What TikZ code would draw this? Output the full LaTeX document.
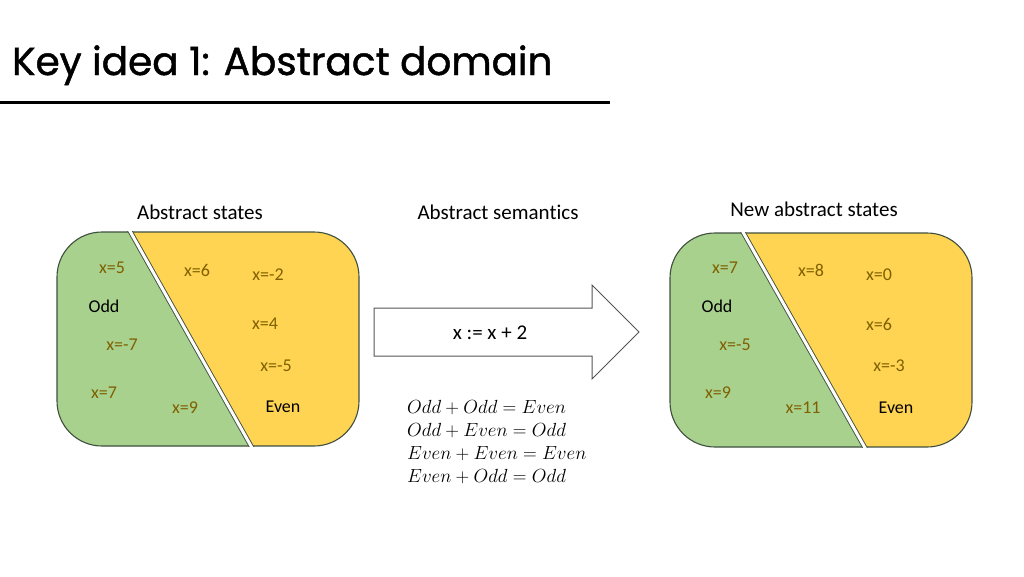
\RequirePackage{fix-cm}
\documentclass[tikz,border=0pt]{standalone}
\usepackage{fontspec}
\setmainfont{Carlito}[Ligatures=NoCommon]
\newfontfamily\titlefont{Poppins}[FakeBold=1.2]
\usetikzlibrary{calc}
\definecolor{grn}{HTML}{A9D18E}
\definecolor{ylw}{HTML}{FFD452}
\definecolor{edgec}{HTML}{3F4F3F}
\definecolor{olive}{HTML}{7F6000}
\definecolor{arrc}{HTML}{555555}
\tikzset{
  val/.style={text=olive, font=\fontsize{18}{20}\selectfont, inner sep=0pt},
  cls/.style={text=black, font=\fontsize{18}{20}\selectfont, inner sep=0pt},
  hdr/.style={font=\fontsize{21}{24}\selectfont, inner sep=0pt},
  eqn/.style={font=\fontsize{19}{22}\selectfont, anchor=base west, inner sep=0pt},
  outl/.style={draw=edgec, line width=1.1pt},
}
\newcommand{\absdomain}[6]{%
  \begin{scope}
    \clip[rounded corners=45pt] (#1,#2) rectangle (#3,#4);
    \fill[ylw] (#1,#2) rectangle (#3,#4);
    \fill[grn] (#1,#2) -- (#5,#2) -- (#6,#4) -- (#1,#4) -- cycle;
  \end{scope}
  \draw[outl, rounded corners=45pt] (#1,#2) rectangle (#3,#4);
  \begin{scope}
    \clip (#1,#2-0.6) rectangle (#3,#4+0.6);
    \draw[edgec, line width=0.9pt, double=white, double distance=3pt]
      ($(#5,#2)!-0.05!(#6,#4)$) -- ($(#5,#2)!1.05!(#6,#4)$);
  \end{scope}
}
\begin{document}
\begin{tikzpicture}[x=1pt,y=-1pt]
\useasboundingbox (0,0) rectangle (1024,576);
\fill[white] (0,0) rectangle (1024,576);

% title
\node[anchor=base west, inner sep=0pt, font=\titlefont\fontsize{39}{46}\selectfont] (title) at (12,75) {Key idea 1: Abstract domain};
\coordinate (r0) at (0,102);
\coordinate (r1) at (610,102);
\draw[line width=3pt] (r0) -- (r1);

% headers
\node[hdr] (h1) at (200,212) {Abstract states};
\node[hdr] (h2) at (498,212) {Abstract semantics};
\node[hdr] (h3) at (814,209) {New abstract states};

% left domain
\absdomain{57}{232}{359}{446}{130.5}{251}
\node[val] (l1) at (112,268) {x=5};
\node[val] (l2) at (197,270) {x=6};
\node[val] (l3) at (268,275) {x=-2};
\node[cls] (l4) at (104,306) {Odd};
\node[val] (l5) at (265,324) {x=4};
\node[val] (l6) at (122,345) {x=-7};
\node[val] (l7) at (276,366) {x=-5};
\node[val] (l8) at (104,393) {x=7};
\node[val] (l9) at (185,408) {x=9};
\node[cls] (l10) at (283,407) {Even};

% right domain
\absdomain{670}{233}{972}{447}{743.5}{864.5}
\node[val] (r1n) at (725,268) {x=7};
\node[val] (r2n) at (811,270) {x=8};
\node[val] (r3n) at (879,275) {x=0};
\node[cls] (r4n) at (717,306) {Odd};
\node[val] (r5n) at (879,324) {x=6};
\node[val] (r6n) at (735,345) {x=-5};
\node[val] (r7n) at (889,366) {x=-3};
\node[val] (r8n) at (718,393) {x=9};
\node[val] (r9n) at (803,408) {x=11};
\node[cls] (r10n) at (896,408) {Even};

% block arrow
\draw[draw=arrc, line width=1pt, fill=white]
  (374,308) -- (592,308) -- (592,285) -- (639,332) -- (592,379) -- (592,356) -- (374,356) -- cycle;
\node[font=\fontsize{21}{24}\selectfont, inner sep=0pt] (asg) at (490,333) {x := x + 2};

% equations
\node[eqn] (e1) at (407,413) {$Odd+Odd=Even$};
\node[eqn] (e2) at (407,436) {$Odd+Even=Odd$};
\node[eqn] (e3) at (407,459) {$Even+Even=Even$};
\node[eqn] (e4) at (407,482) {$Even+Odd=Odd$};
\end{tikzpicture}
\end{document}
